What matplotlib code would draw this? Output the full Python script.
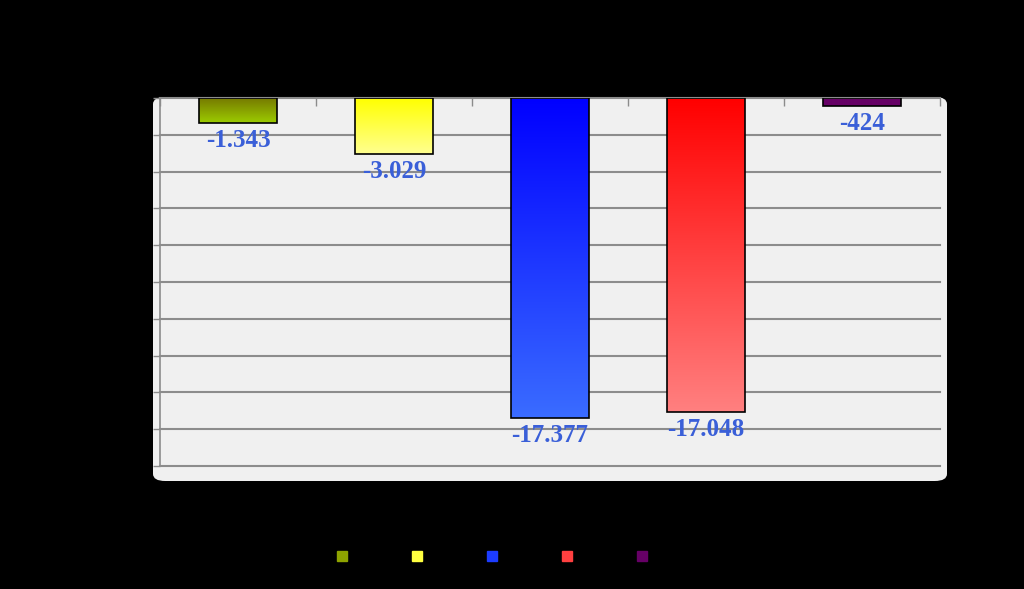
import numpy as np
import matplotlib.pyplot as plt
from matplotlib.patches import FancyBboxPatch
from matplotlib.lines import Line2D
from matplotlib.colors import LinearSegmentedColormap

# data
categories = ["A", "B", "C", "D", "E"]
values = [-1343, -3029, -17377, -17048, -424]
value_labels = ["-1.343", "-3.029", "-17.377", "-17.048", "-424"]
y_ticks = [0, -2000, -4000, -6000, -8000, -10000, -12000, -14000, -16000, -18000, -20000]

# top colour -> bottom colour of each bar
grad_top = ["#767a00", "#ffff00", "#0000ff", "#ff0000", "#660066"]
grad_bot = ["#9ccc00", "#ffff90", "#3a6cff", "#ff8080", "#660066"]
legend_colors = ["#8ea300", "#ffff40", "#1c3cff", "#ff4040", "#660066"]

fig = plt.figure(figsize=(10.24, 5.89), dpi=100, facecolor="black")

# rounded light panel behind the plot
panel = FancyBboxPatch((153 / 1024, 1 - 481 / 589), (947 - 153) / 1024, (481 - 97) / 589,
                       boxstyle="round,pad=0,rounding_size=0.012",
                       transform=fig.transFigure, facecolor="#f0f0f0",
                       edgecolor="none", zorder=-10)
fig.patches.append(panel)

ax = fig.add_axes([160 / 1024, 1 - 466 / 589, 780 / 1024, 368 / 589])
ax.set_facecolor("none")

x = np.arange(len(categories))
bars = ax.bar(x, values, width=0.5, color="none", edgecolor="black", linewidth=1.2, zorder=3)

for i, b in enumerate(bars):
    x0 = b.get_x()
    x1 = x0 + b.get_width()
    y1 = b.get_height()
    cmap = LinearSegmentedColormap.from_list("g%d" % i, [grad_bot[i], grad_top[i]])
    grad = np.linspace(0, 1, 256).reshape(-1, 1)
    im = ax.imshow(grad, extent=[x0, x1, y1, 0], origin="lower", aspect="auto",
                   cmap=cmap, zorder=2)
    im.set_clip_path(b)
    ax.text(x[i], values[i] - 350, value_labels[i], ha="center", va="top",
            fontsize=18, fontweight="bold", family="Liberation Serif",
            color="#3a5fd8", zorder=4)

ax.set_xlim(-0.5, len(categories) - 0.5)
ax.set_ylim(-20000, 0)
ax.set_yticks(y_ticks)
ax.set_yticklabels([])
ax.yaxis.grid(True, color="#8c8c8c", linewidth=1.5, zorder=1)
for gl in ax.get_ygridlines():
    gl.set_clip_on(False)
ax.set_axisbelow(True)

ax.xaxis.tick_top()
ax.set_xticks(np.arange(len(categories) + 1) - 0.5)
ax.set_xticklabels([])
ax.tick_params(axis="x", direction="in", length=6, color="#8c8c8c", width=1)
ax.tick_params(axis="y", direction="out", length=5, color="#8c8c8c", width=1)

for side in ["right", "bottom"]:
    ax.spines[side].set_visible(False)
ax.spines["left"].set_color("#8c8c8c")
ax.spines["top"].set_color("#8c8c8c")
ax.spines["left"].set_linewidth(1.2)
ax.spines["top"].set_linewidth(1.2)

handles = [Line2D([], [], marker="s", linestyle="none", markersize=7,
                  markerfacecolor=c, markeredgecolor=c) for c in legend_colors]
fig.legend(handles, [""] * len(handles), loc="center", ncol=5,
           bbox_to_anchor=(495 / 1024, 1 - 557 / 589), frameon=False,
           handlelength=1.0, handletextpad=0.4, columnspacing=4.0, fontsize=10)

fig.savefig("out.png", dpi=100, facecolor="black")
